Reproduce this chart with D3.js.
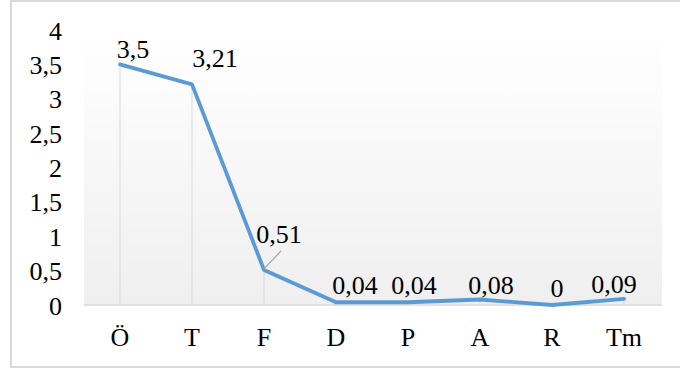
<!DOCTYPE html>
<html><head><meta charset="utf-8">
<script src="https://cdn.jsdelivr.net/npm/d3@7"></script>
<style>body{margin:0;background:#fff}svg{display:block}</style>
</head><body>
<svg id="c" width="680" height="369"></svg>
<script>
const categories = ["Ö","T","F","D","P","A","R","Tm"];
const values = [3.5, 3.21, 0.51, 0.04, 0.04, 0.08, 0, 0.09];
const valueLabels = ["3,5","3,21","0,51","0,04","0,04","0,08","0","0,09"];
const yTicks = [0, 0.5, 1, 1.5, 2, 2.5, 3, 3.5, 4];
const yTickLabels = ["0","0,5","1","1,5","2","2,5","3","3,5","4"];

// layout (label nudges, px)
const labelDx = [13, 23, 15, 19, 6, 11, 5, -10];
const labelDy = [-15, -26, -36, -17, -17, -15, -17, -15];

const FONT = '"Liberation Serif"';
const svg = d3.select("#c");
const m = {left: 84, right: 660, top: 30, bottom: 305};

svg.append("rect").attr("x", 11).attr("y", 1).attr("width", 680).attr("height", 366)
  .attr("fill", "#fff").attr("stroke", "#d9d9d9").attr("stroke-width", 2);

const defs = svg.append("defs");
const g = defs.append("linearGradient").attr("id", "bg").attr("x1", 0).attr("y1", 0).attr("x2", 0).attr("y2", 1);
g.append("stop").attr("offset", "0%").attr("stop-color", "#ffffff");
g.append("stop").attr("offset", "100%").attr("stop-color", "#efefef");

const x = d3.scaleBand().domain(categories).range([m.left, m.right]);
const y = d3.scaleLinear().domain([0, 4]).range([m.bottom, m.top]);

svg.append("rect").attr("x", m.left).attr("y", m.top).attr("width", m.right - m.left + 2)
  .attr("height", m.bottom - m.top).attr("fill", "url(#bg)");

// drop lines
svg.append("g").selectAll("line").data(values).join("line")
  .attr("x1", (d, i) => x(categories[i]) + x.bandwidth() / 2)
  .attr("x2", (d, i) => x(categories[i]) + x.bandwidth() / 2)
  .attr("y1", d => y(d)).attr("y2", y(0))
  .attr("stroke", "#d9d9d9").attr("stroke-width", 1);

// x axis line
svg.append("line").attr("x1", m.left).attr("x2", m.right + 2).attr("y1", y(0)).attr("y2", y(0))
  .attr("stroke", "#d9d9d9").attr("stroke-width", 1.5);

function styleText(sel) {
  sel.style("font-family", FONT).style("font-size", "26px").style("fill", "#000");
}

// y axis labels
const yAxis = d3.axisLeft(y).tickValues(yTicks).tickSize(0).tickPadding(0)
  .tickFormat((d, i) => yTickLabels[i]);
const ya = svg.append("g").attr("transform", "translate(62,0)").call(yAxis);
ya.attr("font-family", null).attr("font-size", null);
ya.select(".domain").remove();
ya.selectAll("text").call(styleText).attr("dy", "0.35em");

// x axis labels
const xAxis = d3.axisBottom(x).tickSize(0).tickPadding(0);
const xa = svg.append("g").attr("transform", "translate(0,337)").call(xAxis);
xa.attr("font-family", null).attr("font-size", null);
xa.select(".domain").remove();
xa.selectAll("text").call(styleText).attr("dy", "0.35em");

// line
const line = d3.line().x((d, i) => x(categories[i]) + x.bandwidth() / 2).y(d => y(d));
svg.append("path").datum(values).attr("d", line).attr("fill", "none")
  .attr("stroke", "#5b9bd5").attr("stroke-width", 3.8).attr("stroke-linejoin", "round").attr("stroke-linecap", "round");

// leader line for F
const fi = 2;
const fx = x(categories[fi]) + x.bandwidth() / 2, fy = y(values[fi]);
svg.append("line").attr("x1", fx).attr("y1", fy - 1).attr("x2", fx + 17).attr("y2", fy - 19)
  .attr("stroke", "#a6a6a6").attr("stroke-width", 1.2);

// data labels
svg.append("g").selectAll("text").data(values).join("text")
  .attr("x", (d, i) => x(categories[i]) + x.bandwidth() / 2 + labelDx[i])
  .attr("y", (d, i) => y(d) + labelDy[i])
  .attr("text-anchor", "middle").attr("dy", "0.35em")
  .call(styleText)
  .text((d, i) => valueLabels[i]);
</script>
</body></html>
